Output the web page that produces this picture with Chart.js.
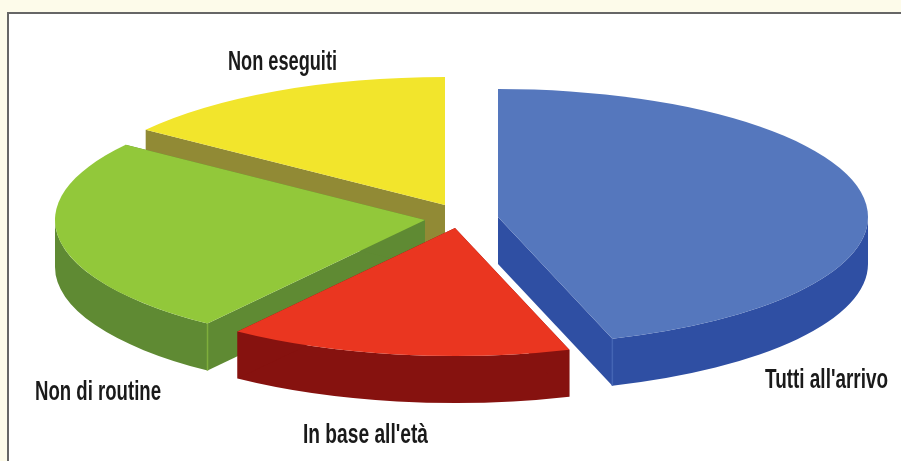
<!DOCTYPE html>
<html>
<head>
<meta charset="utf-8">
<title>Esami all'arrivo</title>
<script src="https://cdn.jsdelivr.net/npm/chart.js@4"></script>
<style>
    html, body { margin: 0; height: 100%; background: #fdfbea; overflow: hidden; }
    #frame {
        position: absolute; left: 7px; top: 12px; right: 0; bottom: 0;
        background: #fff;
        border-left: 2px solid #666; border-top: 2px solid #666;
    }
    #pie { position: absolute; left: 0; top: 0; }
</style>
</head>
<body>
<div id="frame"></div>
<canvas id="pie" width="901" height="461"></canvas>
<script>
const categories = ['Tutti all\'arrivo', 'In base all\'età', 'Non di routine', 'Non eseguiti'];
const shares = [45, 15, 25, 15];
const topColors = ['#5577bd', '#ea3620', '#92c83a', '#f2e52c'];
const sideColors = ['#2f4fa3', '#86120f', '#5f8a33', '#918a35'];

// Where each slice's tip sits once pulled out of the pie
const sliceTips = [
    { x: 498, y: 217 },
    { x: 455, y: 228 },
    { x: 425, y: 220 },
    { x: 445, y: 205 }
];

// Left edge and baseline of each caption
const captionSpots = [
    { x: 765, y: 388, width: 123 },
    { x: 303, y: 443, width: 125 },
    { x: 35, y: 400, width: 126 },
    { x: 228, y: 70, width: 109 }
];

const RADIUS_X = 370;
const RADIUS_Y = 128;
const DEPTH = 47;

function rimPoint(tip, angle) {
    return {
        x: tip.x + RADIUS_X * Math.cos(angle),
        y: tip.y + RADIUS_Y * Math.sin(angle)
    };
}

// Outer wall and the two cut faces below a slice
function fillSides(ctx, arc, tip, color) {
    ctx.fillStyle = color;

    // Only the front half of the rim (0 to PI) has a wall that shows
    const from = Math.max(arc.startAngle, 0);
    const to = Math.min(arc.endAngle, Math.PI);
    if (to > from) {
        ctx.beginPath();
        ctx.ellipse(tip.x, tip.y, RADIUS_X, RADIUS_Y, 0, from, to);
        ctx.ellipse(tip.x, tip.y + DEPTH, RADIUS_X, RADIUS_Y, 0, to, from, true);
        ctx.closePath();
        ctx.fill();
    }

    [arc.startAngle, arc.endAngle].forEach(angle => {
        const p = rimPoint(tip, angle);
        ctx.beginPath();
        ctx.moveTo(tip.x, tip.y);
        ctx.lineTo(p.x, p.y);
        ctx.lineTo(p.x, p.y + DEPTH);
        ctx.lineTo(tip.x, tip.y + DEPTH);
        ctx.closePath();
        ctx.fill();
    });
}

function fillTop(ctx, arc, tip, color) {
    ctx.beginPath();
    ctx.moveTo(tip.x, tip.y);
    ctx.ellipse(tip.x, tip.y, RADIUS_X, RADIUS_Y, 0, arc.startAngle, arc.endAngle);
    ctx.closePath();
    ctx.fillStyle = color;
    ctx.fill();
}

function cornerEdge(ctx, tip, angle, color) {
    const p = rimPoint(tip, angle);
    ctx.strokeStyle = color;
    ctx.lineWidth = 1.5;
    ctx.beginPath();
    ctx.moveTo(p.x, p.y);
    ctx.lineTo(p.x, p.y + DEPTH);
    ctx.stroke();
}

const extrudedPie = {
    id: 'extrudedPie',
    beforeDatasetsDraw(chart) {
        const ctx = chart.ctx;
        const arcs = chart.getDatasetMeta(0).data;

        ctx.save();
        // Painted back to front so nearer slices cover the sides of farther ones
        [3, 2, 0, 1].forEach(i => {
            fillSides(ctx, arcs[i], sliceTips[i], sideColors[i]);
            fillTop(ctx, arcs[i], sliceTips[i], topColors[i]);
        });

        cornerEdge(ctx, sliceTips[2], arcs[2].startAngle, '#7fae3c');
        cornerEdge(ctx, sliceTips[0], arcs[0].endAngle, '#4465b4');
        ctx.restore();

        return false;
    },
    afterDraw(chart) {
        const ctx = chart.ctx;
        ctx.save();
        ctx.fillStyle = '#1a1a1a';
        ctx.font = 'bold 27px "Liberation Sans Narrow", "Liberation Sans", sans-serif';
        ctx.textBaseline = 'alphabetic';
        chart.data.labels.forEach((label, i) => {
            const spot = captionSpots[i];
            const squeeze = spot.width / ctx.measureText(label).width;
            ctx.save();
            ctx.translate(spot.x, spot.y);
            ctx.scale(squeeze, 1);
            ctx.fillText(label, 0, 0);
            ctx.restore();
        });
        ctx.restore();
    }
};

new Chart(document.getElementById('pie'), {
    type: 'pie',
    data: {
        labels: categories,
        datasets: [{
            data: shares,
            backgroundColor: topColors,
            borderWidth: 0
        }]
    },
    options: {
        responsive: false,
        animation: false,
        events: [],
        plugins: {
            legend: { display: false },
            tooltip: { enabled: false }
        }
    },
    plugins: [extrudedPie]
});
</script>
</body>
</html>
